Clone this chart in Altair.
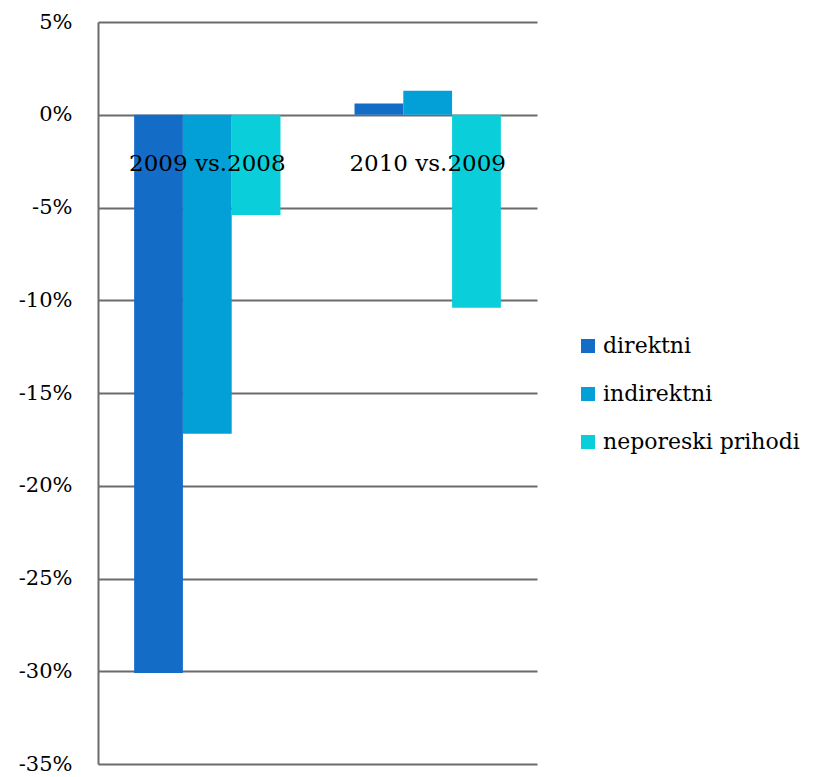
import altair as alt
import pandas as pd

categories = ["2009 vs.2008", "2010 vs.2009"]
series = ["direktni", "indirektni", "neporeski prihodi"]
direktni = [-30.1, 0.6]
indirektni = [-17.2, 1.3]
neporeski = [-5.4, -10.4]
colors = ["#136CC6", "#039FD7", "#0ACFDA"]
y_ticks = [5, 0, -5, -10, -15, -20, -25, -30, -35]

rows = []
for s, vals in zip(series, [direktni, indirektni, neporeski]):
    for c, v in zip(categories, vals):
        rows.append({"category": c, "series": s, "value": v})
df = pd.DataFrame(rows)

FONT = "DejaVu Serif"
GRID = "#6b6b6b"

chart = alt.Chart(df).mark_bar().encode(
    x=alt.X(
        "category:N",
        sort=categories,
        scale=alt.Scale(paddingInner=0.336, paddingOuter=0.164),
        axis=alt.Axis(
            title=None, orient="bottom", offset=-601, domain=False, ticks=False,
            labelAngle=0, labelFont=FONT, labelFontSize=23, labelColor="black",
            labelBaseline="middle", labelPadding=0, zindex=2,
        ),
    ),
    xOffset=alt.XOffset("series:N", sort=series, scale=alt.Scale(paddingInner=0, paddingOuter=0)),
    y=alt.Y(
        "value:Q",
        scale=alt.Scale(domain=[-35, 5], nice=False, zero=False),
        axis=alt.Axis(
            values=y_ticks, labelExpr="datum.value + '%'", title=None,
            domain=True, domainColor=GRID, domainWidth=2,
            grid=True, gridColor=GRID, gridWidth=2, gridOpacity=1,
            ticks=False, labelPadding=26, labelFont=FONT, labelFontSize=21,
            labelColor="black",
        ),
    ),
    color=alt.Color(
        "series:N",
        sort=series,
        scale=alt.Scale(domain=series, range=colors),
        legend=alt.Legend(
            title=None, orient="none", legendX=479, legendY=313,
            symbolType="square", symbolSize=196, symbolStrokeWidth=0,
            labelFont=FONT, labelFontSize=22, labelColor="black", labelLimit=0,
            rowPadding=26, labelOffset=4,
        ),
    ),
).properties(
    width=439,
    height=742,
    autosize="none",
    padding={"left": 90, "top": 14, "right": 271, "bottom": 14},
    background="white",
).configure_view(stroke=None)

chart.save("out.html", embed_options={"renderer": "svg", "actions": False})
